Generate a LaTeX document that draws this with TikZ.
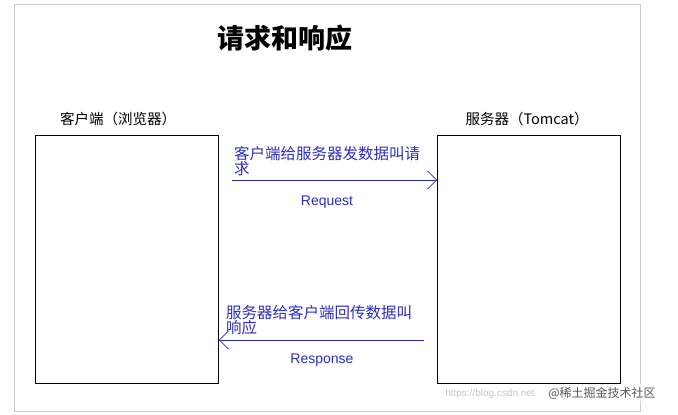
\documentclass[tikz,border=0pt]{standalone}
\usepackage{fontspec}
\setmainfont{Liberation Sans}
\newfontfamily\cjk{Noto Sans CJK SC}
\usetikzlibrary{arrows.meta}
\definecolor{lblue}{RGB}{45,45,190}
\tikzset{box/.style={draw,line width=0.8pt},
 blab/.style={text=lblue,font=\cjk\fontsize{15.5}{13}\selectfont,anchor=north west,align=left,inner sep=0pt},
 eng/.style={text=lblue,font=\fontsize{14}{14}\selectfont},
 conn/.style={draw=lblue,line width=0.8pt,-{Straight Barb[length=9pt,width=18pt,line width=0.7pt]}}}
\begin{document}
\begin{tikzpicture}[x=1pt,y=-1pt]
\useasboundingbox[fill=white] (0,0) rectangle (678,415);
\draw[gray!40] (14,4) rectangle (640,411);
\node[font=\cjk\bfseries\fontsize{27}{27}\selectfont] (title) at (285,38) {请求和响应};
\node[box,minimum width=183pt,minimum height=248pt,anchor=north west] (client) at (35,135) {};
\node[box,minimum width=183pt,minimum height=248pt,anchor=north west] (server) at (437,135) {};
\node[font=\cjk\fontsize{14.5}{14}\selectfont] (cl) at (118,119) {客户端（浏览器）};
\node[font=\cjk\fontsize{14.5}{14}\selectfont] (sl) at (527,119) {服务器（Tomcat）};
\coordinate (rqs) at (232,180);
\coordinate (rss) at (424,340);
\draw[conn] (rqs) -- (server.west |- rqs);
\draw[conn] (rss) -- (client.east |- rss);
\node[blab] (rqt) at (234,146) {客户端给服务器发数据叫请\\求};
\node[eng] (rq) at (327,202) {Request};
\node[blab] (rst) at (226,305) {服务器给客户端回传数据叫\\响应};
\node[eng] (rs) at (322,360) {Response};
\node[text=gray!45,font=\fontsize{10}{10}\selectfont] (wm1) at (490,394) {https://blog.csdn.net};
\node[text=gray!70!black,font=\cjk\fontsize{12}{12}\selectfont,fill=white,fill opacity=0.6,text opacity=1] (wm2) at (602,393) {@稀土掘金技术社区};
\end{tikzpicture}
\end{document}
